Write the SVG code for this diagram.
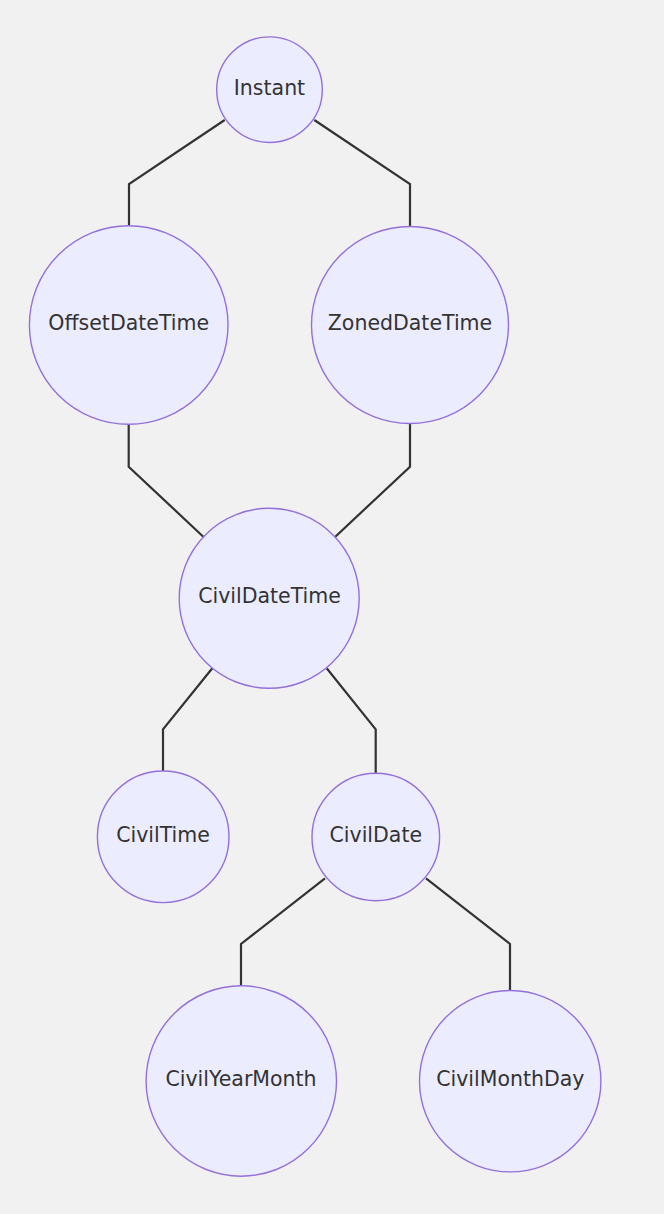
<svg xmlns="http://www.w3.org/2000/svg" width="664" height="1214" viewBox="0 0 664 1214">
<style>
.node circle{fill:#ECECFF;stroke:#9370DB;stroke-width:1.4}
.node text{font-family:"DejaVu Sans","Liberation Sans",sans-serif;font-size:20.5px;fill:#333333;text-anchor:middle}
.edge{fill:none;stroke:#333333;stroke-width:2.2}
</style>
<rect width="664" height="1214" fill="#f1f1f1"/>
<g id="edges">
<path class="edge" d="M224.7,120 L129,184 L129,226"/>
<path class="edge" d="M314.3,120 L410,184 L410,226.5"/>
<path class="edge" d="M128.7,424 L128.7,466.7 L203.3,536.7"/>
<path class="edge" d="M410,423.5 L410,466.7 L335.3,536.7"/>
<path class="edge" d="M212.3,668.3 L163,729.3 L163,771"/>
<path class="edge" d="M326.7,668.3 L375.7,729.3 L375.7,773.3"/>
<path class="edge" d="M325,878.3 L241,944 L241,986"/>
<path class="edge" d="M426,878.3 L510,944 L510,990.7"/>
</g>
<g id="Instant" class="node"><circle cx="269.5" cy="89.7" r="52.8"/><text x="269.5" y="94.5">Instant</text></g>
<g id="OffsetDateTime" class="node"><circle cx="128.7" cy="325" r="99.3"/><text x="128.7" y="330">OffsetDateTime</text></g>
<g id="ZonedDateTime" class="node"><circle cx="410" cy="325" r="98.5"/><text x="410" y="330">ZonedDateTime</text></g>
<g id="CivilDateTime" class="node"><circle cx="269.2" cy="598.3" r="90"/><text x="269.5" y="603">CivilDateTime</text></g>
<g id="CivilTime" class="node"><circle cx="163.2" cy="836.8" r="65.8"/><text x="163" y="841.7">CivilTime</text></g>
<g id="CivilDate" class="node"><circle cx="375.8" cy="837" r="63.8"/><text x="375.8" y="841.7">CivilDate</text></g>
<g id="CivilYearMonth" class="node"><circle cx="241.3" cy="1081" r="95.2"/><text x="241" y="1086">CivilYearMonth</text></g>
<g id="CivilMonthDay" class="node"><circle cx="510.2" cy="1081.2" r="90.7"/><text x="510.3" y="1086">CivilMonthDay</text></g>
</svg>
